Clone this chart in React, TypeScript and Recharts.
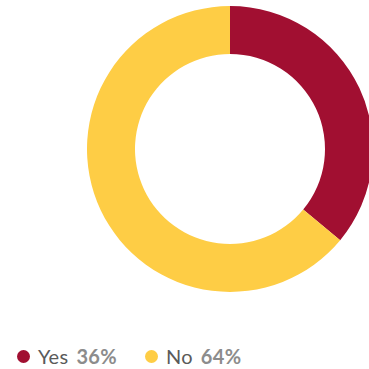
import { PieChart, Pie, Cell, Legend } from "recharts";

const labels = ["Yes", "No"];
const values = [36, 64];
const colors = ["#A10F31", "#FECD45"];

const data = labels.map((name, i) => ({ name, value: values[i] }));

function renderLegend() {
  return (
    <div
      style={{
        display: "flex",
        alignItems: "center",
        fontFamily: "Lato, sans-serif",
        fontSize: 20,
        lineHeight: "24px",
        height: 24,
      }}
    >
      {data.map((d, i) => (
        <div key={d.name} style={{ display: "flex", alignItems: "center", marginRight: 28 }}>
          <span
            style={{
              display: "inline-block",
              width: 13,
              height: 13,
              borderRadius: "50%",
              background: colors[i],
              marginRight: 8,
            }}
          />
          <span style={{ color: "#5a5a5a", letterSpacing: 0.3 }}>{d.name}</span>
          <span style={{ color: "#8c8c8c", fontWeight: 700, marginLeft: 8, letterSpacing: 0.3 }}>
            {d.value}%
          </span>
        </div>
      ))}
    </div>
  );
}

export default function App() {
  return (
    <div style={{ position: "absolute", left: 0, top: 0, width: 369, height: 369, background: "#fff" }}>
      <PieChart width={369} height={369} margin={{ top: 0, right: 0, bottom: 0, left: 0 }}>
        <Pie
          data={data}
          dataKey="value"
          nameKey="name"
          cx={230}
          cy={149}
          outerRadius={143}
          innerRadius={95}
          startAngle={90}
          endAngle={-270}
          stroke="none"
          isAnimationActive={false}
        >
          {data.map((d, i) => (
            <Cell key={d.name} fill={colors[i]} />
          ))}
        </Pie>
        <Legend
          content={renderLegend}
          layout="horizontal"
          verticalAlign="bottom"
          align="left"
          wrapperStyle={{ left: 17, top: 344, width: 350 }}
        />
      </PieChart>
    </div>
  );
}
